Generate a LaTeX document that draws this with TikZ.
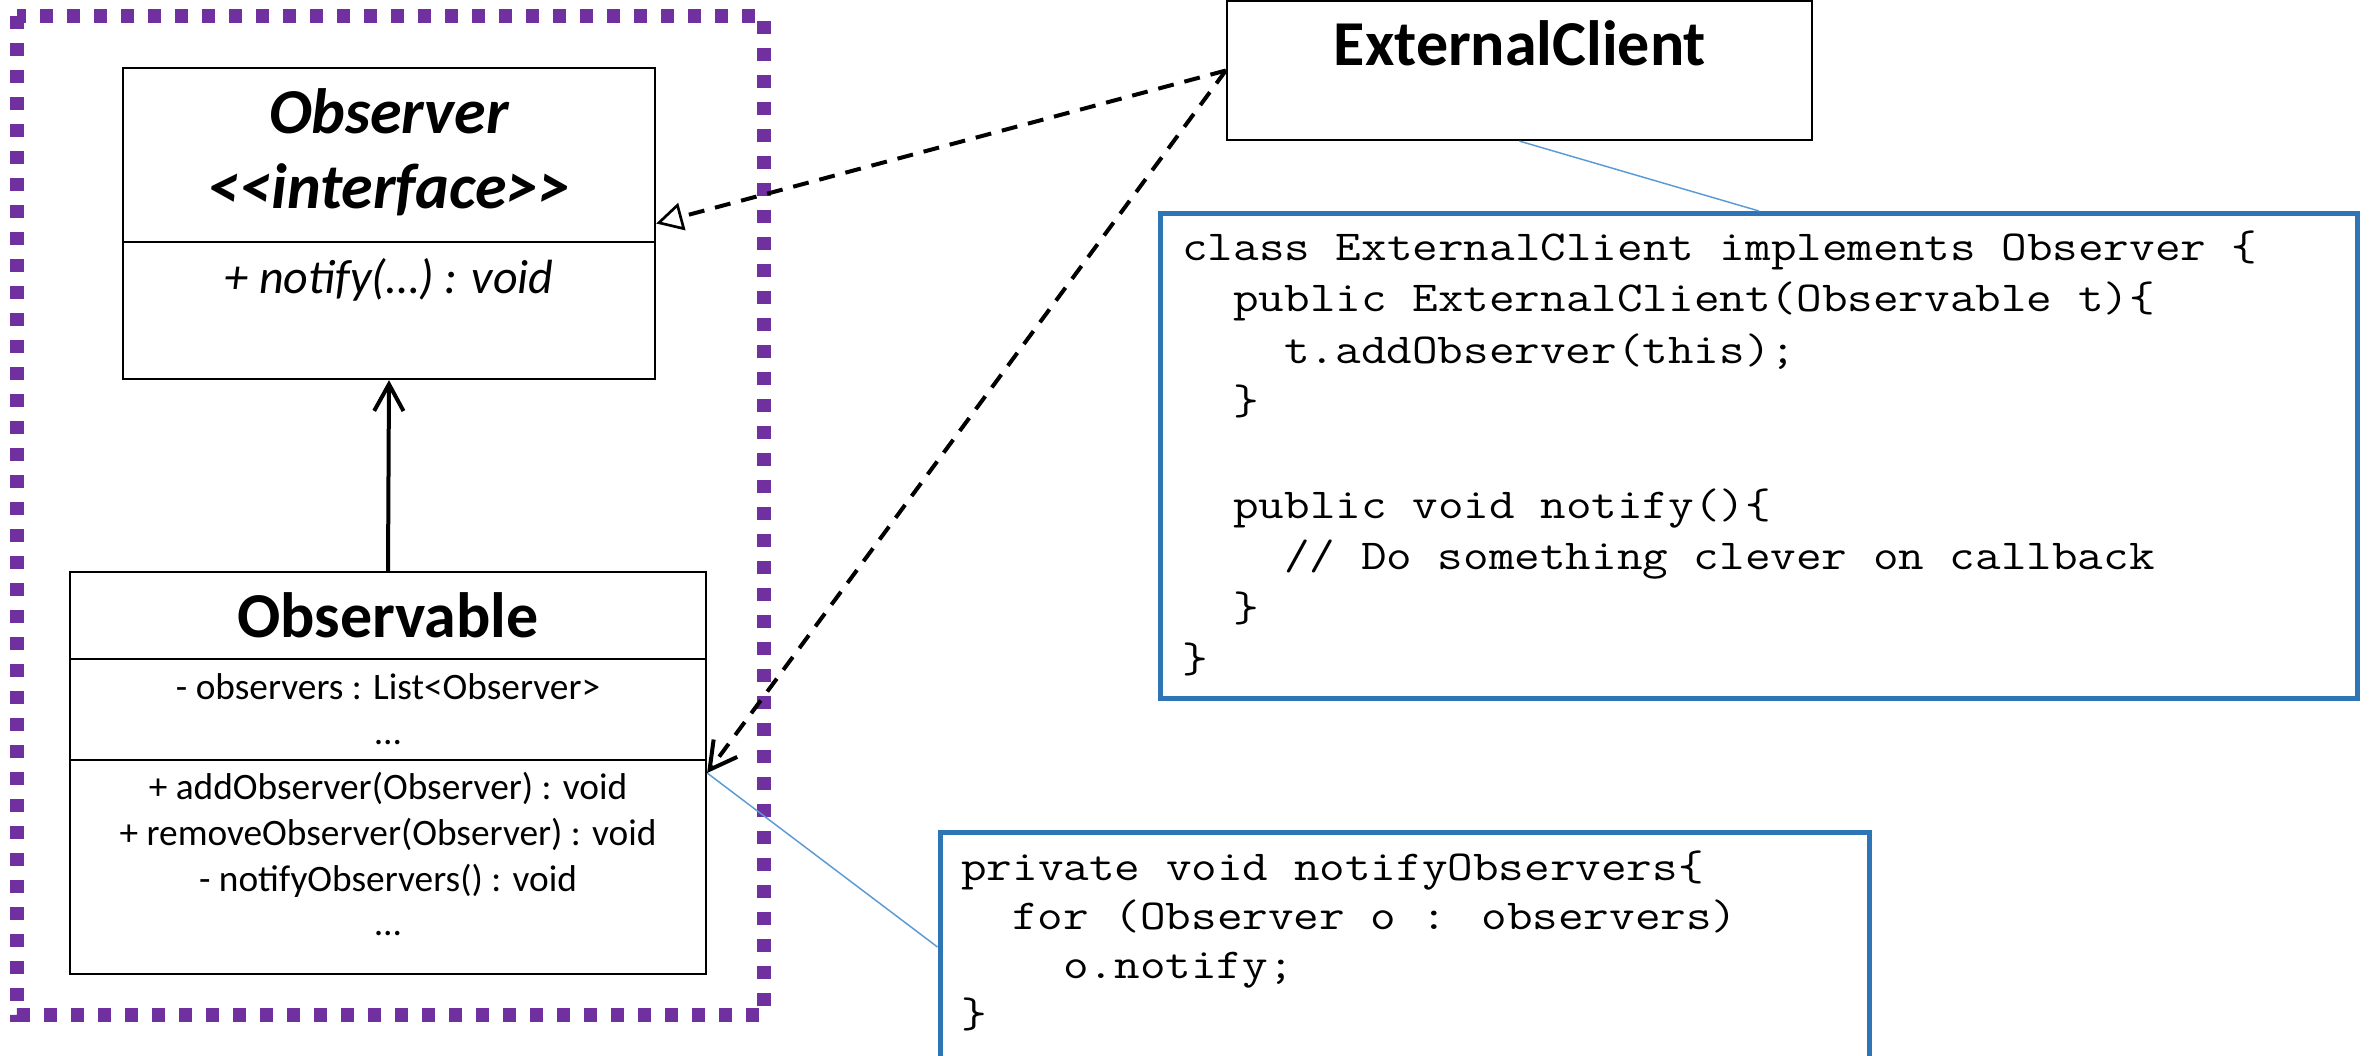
\documentclass[tikz,border=0pt]{standalone}
\usepackage{fontspec}
\usetikzlibrary{arrows.meta,fit}
% UML text in Carlito (no TeX ligatures, so << and >> stay as typed)
\newfontfamily\uml{Carlito}
% serif typewriter face, widened to a Courier-like advance
\newfontfamily\codefont{Latin Modern Mono}[FakeStretch=1.165]
\definecolor{groupviolet}{HTML}{7030A0}
\definecolor{codeblue}{HTML}{2E75B6}
\definecolor{noteblue}{HTML}{5B9BD5}
\tikzset{
  umlbox/.style={draw=black, line width=1.7pt, inner sep=0pt, fill=white},
  codebox/.style={draw=codeblue, line width=3.75pt, inner sep=0pt, fill=white},
  divider/.style={draw=black, line width=1.7pt},
  titletext/.style={anchor=base, inner sep=0pt, font=\uml\bfseries\fontsize{48}{58}\selectfont},
  ititletext/.style={anchor=base, inner sep=0pt, font=\uml\bfseries\itshape\fontsize{48}{58}\selectfont},
  optext/.style={anchor=base, inner sep=0pt, font=\uml\itshape\fontsize{36}{44}\selectfont},
  membertext/.style={anchor=base, inner sep=0pt, font=\uml\fontsize{28}{34}\selectfont},
  codeline/.style={anchor=base west, inner sep=0pt, font=\codefont\fontsize{32}{38}\selectfont},
  depline/.style={draw=black, line width=3pt, dash pattern=on 12pt off 8.25pt},
  noteline/.style={draw=noteblue, line width=1.1pt},
  groupframe/.style={draw=groupviolet, line width=10pt, dash pattern=on 9.75pt off 10.5pt}
}
\begin{document}
\begin{tikzpicture}[x=0.75pt, y=-0.75pt]
  \useasboundingbox (0,0) rectangle (2369,1056);
  \clip (0,0) rectangle (2369,1056);
  \fill[white] (0,0) rectangle (2369,1056);

  % dotted frame around the observer pair
  \draw[groupframe] (17,16) rectangle (764,1015);

  % Observer interface
  \node[umlbox, fit={(123,68) (655,379)}] (obs) {};
  \draw[divider] (obs.west |- 0,242) -- (obs.east |- 0,242);
  \node[ititletext] (obsname) at (389,133) {Observer};
  \node[ititletext] (obsstereo) at (389,208) {<<interface>>};
  \node[optext] (obsop) at (389,293) {+ notify(…) : void};

  % Observable class
  \node[umlbox, fit={(70,572) (706,974)}] (obsv) {};
  \draw[divider] (obsv.west |- 0,659) -- (obsv.east |- 0,659);
  \draw[divider] (obsv.west |- 0,760) -- (obsv.east |- 0,760);
  \node[titletext] (obsvname) at (388,637) {Observable};
  \node[membertext] (attr1) at (388,699) {- observers : List<Observer>};
  \node[membertext] (attr2) at (388,744) {…};
  \node[membertext] (op1) at (388,799) {+ addObserver(Observer) : void};
  \node[membertext] (op2) at (388,845) {+ removeObserver(Observer) : void};
  \node[membertext] (op3) at (388,891) {- notifyObservers() : void};
  \node[membertext] (op4) at (388,935) {…};

  % ExternalClient class
  \node[umlbox, fit={(1227,1) (1812,140)}] (ec) {};
  \node[titletext] (ecname) at (1520,65) {ExternalClient};

  % code notes
  \node[codebox, fit={(1160.5,213.5) (2357.5,698)}] (code1) {};
  \node[codeline] (c1a) at (1182,260) {class ExternalClient implements Observer \{};
  \node[codeline] (c1b) at (1233,311.6) {public ExternalClient(Observable t)\{};
  \node[codeline] (c1c) at (1284,363.2) {t.addObserver(this);};
  \node[codeline] (c1d) at (1233,414.8) {\}};
  \node[codeline] (c1e) at (1233,518) {public void notify()\{};
  \node[codeline] (c1f) at (1284,569.6) {// Do something clever on callback};
  \node[codeline] (c1g) at (1233,621.2) {\}};
  \node[codeline] (c1h) at (1182,672.8) {\}};

  \node[codebox, fit={(940,832) (1869,1062)}] (code2) {};
  \node[codeline] (c2a) at (961,880) {private void notifyObservers\{};
  \node[codeline] (c2b) at (1012,929) {for (Observer o : observers)};
  \node[codeline] (c2c) at (1063,978) {o.notify;};
  \node[codeline] (c2d) at (961,1027) {\}};

  % note anchors
  \draw[noteline] (ec.south) -- (code1.north);
  \draw[noteline] (obsv.east) -- (code2.west);

  % relationships
  \draw[line width=3pt, -{Straight Barb[length=20pt, width=22pt, line width=3pt]}] (obsv.north) -- (obs.south);
  \draw[depline, -{Triangle[open, length=20pt, width=21pt, line width=2pt, fill=white]}] (ec.west) -- (obs.east);
  \draw[depline, -{Straight Barb[length=20pt, width=22pt, line width=3pt]}] (ec.west) -- (obsv.east);
\end{tikzpicture}
\end{document}
